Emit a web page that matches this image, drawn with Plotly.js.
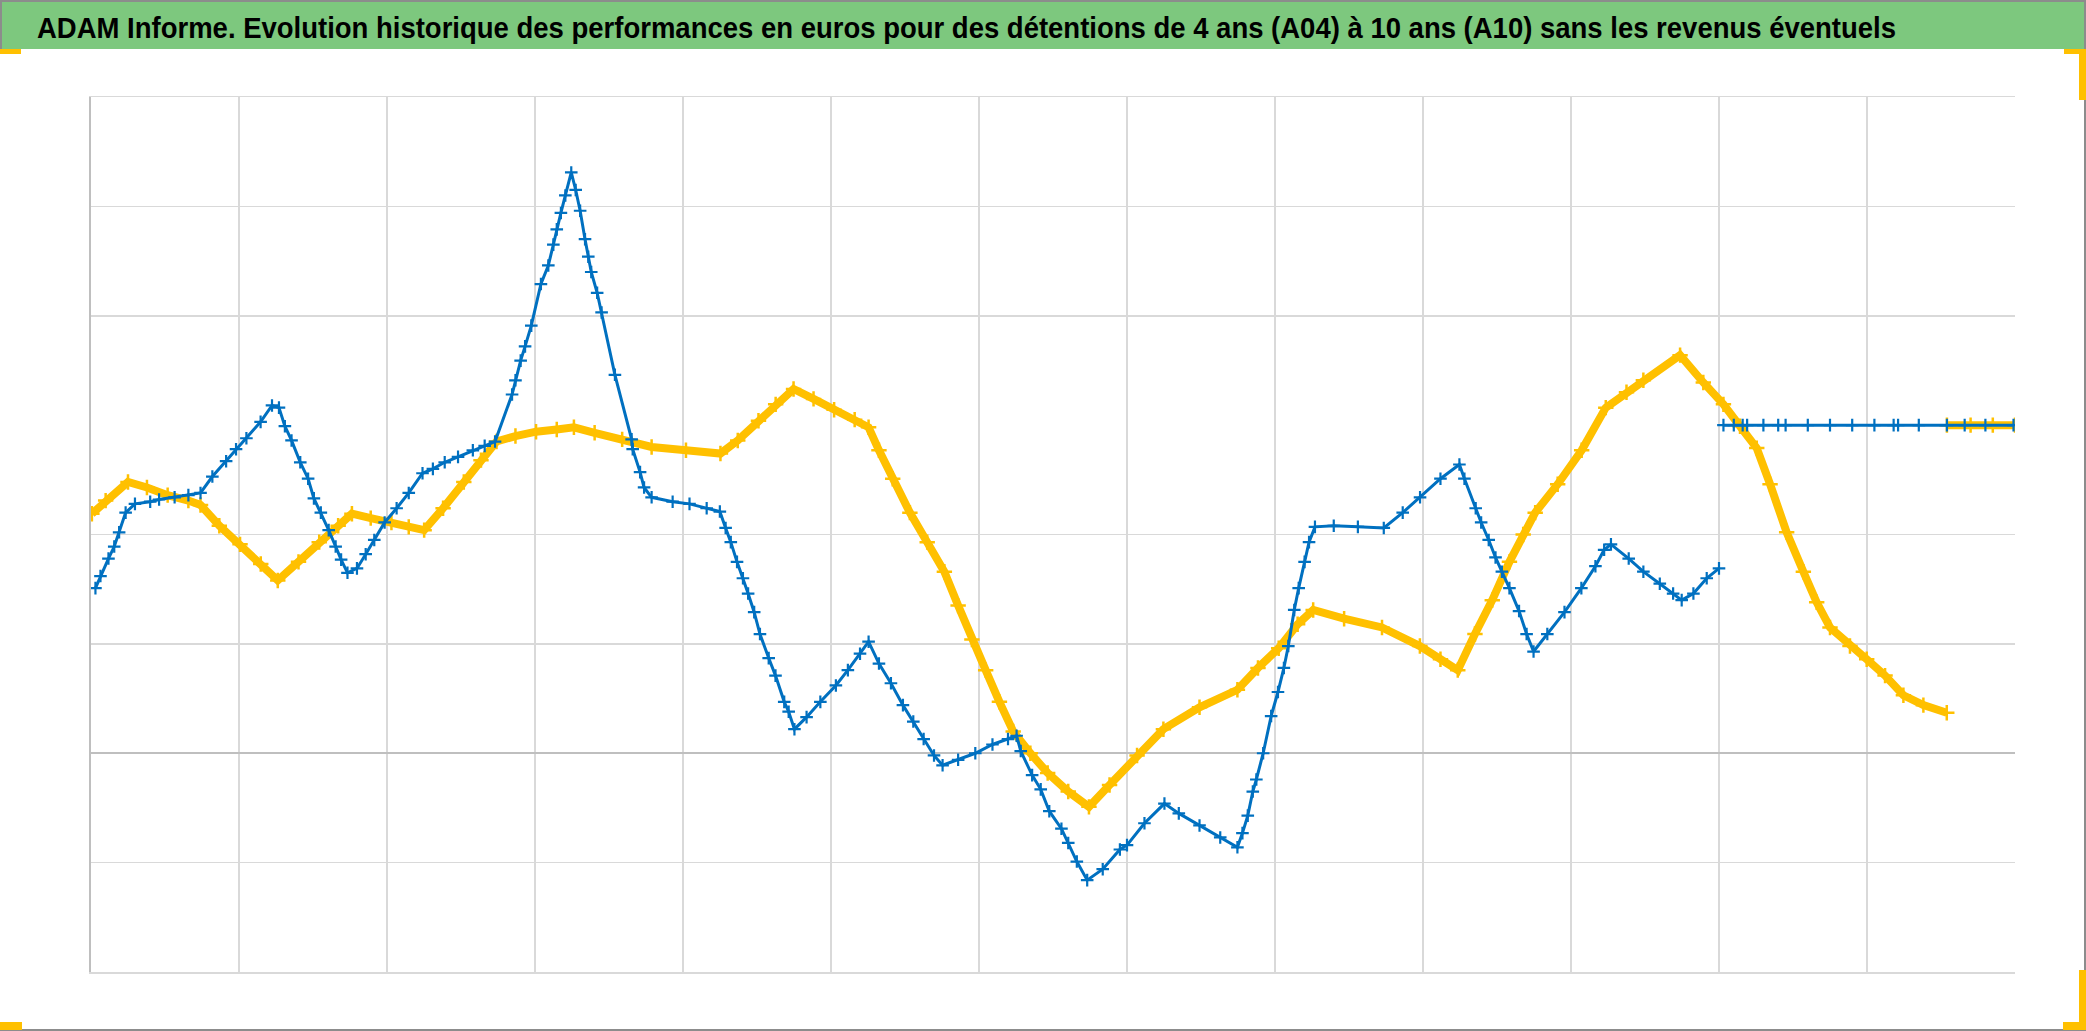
<!DOCTYPE html>
<html>
<head>
<meta charset="utf-8">
<script src="https://cdn.plot.ly/plotly-3.0.1.min.js"></script>
<style>
  html, body { margin: 0; padding: 0; background: #ffffff; }
  #chart { width: 2086px; height: 1031px; }
</style>
</head>
<body>
<div id="chart"></div>
<script>
// ---- Data (x in grid-interval units, y in grid units) ----
const blueX = [0.03,0.064,0.118,0.157,0.19,0.234,0.297,0.40,0.46,0.565,0.658,0.74,0.82,0.913,0.98,1.05,1.146,1.223,1.27,1.31,1.355,1.414,1.467,1.506,1.553,1.606,1.653,1.69,1.733,1.797,1.856,1.914,1.984,2.065,2.147,2.24,2.31,2.39,2.48,2.58,2.66,2.73,2.845,2.868,2.903,2.933,2.975,3.04,3.09,3.124,3.147,3.175,3.205,3.245,3.275,3.305,3.338,3.36,3.38,3.42,3.45,3.54,3.653,3.66,3.71,3.737,3.788,3.93,4.044,4.16,4.249,4.288,4.323,4.365,4.405,4.44,4.481,4.52,4.579,4.625,4.684,4.714,4.753,4.835,4.928,5.033,5.114,5.196,5.254,5.324,5.405,5.486,5.556,5.626,5.696,5.754,5.859,5.975,6.091,6.196,6.254,6.282,6.359,6.417,6.475,6.557,6.603,6.661,6.731,6.836,6.952,7.0,7.118,7.253,7.35,7.49,7.63,7.746,7.78,7.816,7.85,7.874,7.92,7.974,8.02,8.06,8.09,8.13,8.16,8.2,8.23,8.27,8.397,8.56,8.735,8.863,8.98,9.118,9.246,9.28,9.356,9.393,9.444,9.49,9.533,9.584,9.649,9.7,9.747,9.84,9.956,10.07,10.165,10.224,10.27,10.39,10.489,10.6,10.69,10.748,10.827,10.917,11.0];
const blueY = [1.51,1.62,1.78,1.89,2.02,2.20,2.28,2.30,2.32,2.34,2.36,2.38,2.53,2.67,2.78,2.88,3.03,3.18,3.16,2.99,2.86,2.66,2.51,2.33,2.20,2.04,1.89,1.77,1.65,1.69,1.82,1.95,2.11,2.24,2.38,2.56,2.60,2.66,2.71,2.77,2.81,2.85,3.28,3.41,3.59,3.72,3.91,4.29,4.46,4.65,4.79,4.94,5.10,5.31,5.15,4.96,4.70,4.54,4.40,4.21,4.03,3.46,2.87,2.78,2.57,2.43,2.34,2.30,2.28,2.24,2.21,2.06,1.93,1.75,1.60,1.46,1.29,1.09,0.87,0.71,0.47,0.38,0.22,0.33,0.47,0.62,0.76,0.91,1.02,0.82,0.64,0.44,0.29,0.13,-0.02,-0.11,-0.06,0.0,0.08,0.13,0.16,0.02,-0.20,-0.33,-0.53,-0.69,-0.82,-0.99,-1.16,-1.06,-0.88,-0.84,-0.64,-0.46,-0.55,-0.66,-0.77,-0.86,-0.73,-0.57,-0.35,-0.24,0.0,0.34,0.56,0.78,0.98,1.31,1.51,1.75,1.93,2.07,2.08,2.07,2.06,2.20,2.34,2.51,2.64,2.51,2.24,2.11,1.95,1.79,1.66,1.51,1.30,1.09,0.93,1.09,1.29,1.51,1.71,1.86,1.91,1.78,1.66,1.55,1.46,1.40,1.46,1.60,1.69];

const yellowX = [0.006,0.099,0.25,0.378,0.518,0.658,0.74,0.867,1.007,1.147,1.262,1.402,1.542,1.67,1.763,1.89,2.03,2.147,2.251,2.379,2.519,2.635,2.74,2.868,3.007,3.147,3.263,3.403,3.589,3.788,4.02,4.253,4.37,4.51,4.626,4.747,4.882,5.021,5.16,5.254,5.324,5.417,5.533,5.65,5.766,5.859,5.952,6.045,6.138,6.231,6.347,6.464,6.603,6.743,6.882,7.068,7.246,7.49,7.746,7.885,8.025,8.153,8.258,8.467,8.723,8.979,9.118,9.235,9.351,9.468,9.584,9.677,9.758,9.91,10.072,10.235,10.375,10.489,10.737,10.894,11.03,11.142,11.255,11.345,11.457,11.57,11.66,11.75,11.885,11.998,12.122,12.246,12.381,12.539];
const yellowY = [2.19,2.31,2.48,2.43,2.36,2.31,2.27,2.08,1.91,1.73,1.58,1.75,1.93,2.08,2.19,2.15,2.11,2.07,2.04,2.24,2.48,2.68,2.85,2.90,2.94,2.96,2.98,2.93,2.87,2.80,2.77,2.74,2.86,3.04,3.19,3.33,3.24,3.14,3.05,2.98,2.77,2.51,2.20,1.93,1.66,1.35,1.04,0.76,0.47,0.20,0.0,-0.18,-0.35,-0.49,-0.29,-0.02,0.22,0.42,0.58,0.78,0.96,1.18,1.31,1.23,1.15,0.98,0.86,0.76,1.09,1.40,1.75,2.00,2.20,2.46,2.77,3.16,3.30,3.41,3.64,3.39,3.19,2.99,2.79,2.46,2.02,1.66,1.38,1.15,0.98,0.86,0.71,0.53,0.44,0.37];

const flatBlueX = [11.03,11.1,11.16,11.19,11.3,11.4,11.45,11.6,11.75,11.9,12.05,12.18,12.21,12.35,12.54,12.66,12.8,12.99];
const flatBlueY = [3,3,3,3,3,3,3,3,3,3,3,3,3,3,3,3,3,3];
const flatYellowX = [12.54,12.7,12.85,13.0];
const flatYellowY = [3,3,3,3];

const xGridVals = [1,2,3,4,5,6,7,8,9,10,11,12];
const yGridVals = [-1,1,2,4,5];

const titleText = "ADAM Informe. Evolution historique des performances en euros pour des détentions de 4 ans (A04) à 10 ans (A10) sans les revenus éventuels";

// ---- Layout geometry (pixels) ----
const FW = 2086, FH = 1031;
const L = 91, R = 2015, T = 97, B = 972;
const W = R - L, H = B - T;
const px = x => (x - L) / W;
const py = y => (B - y) / H;

const BLUE = "#0070C0", GOLD = "#FFC000";

function rectPx(x0, y0, x1, y1, color) {
  return { type: "rect", xref: "paper", yref: "paper", x0: px(x0), x1: px(x1), y0: py(y1), y1: py(y0),
           fillcolor: color, line: { width: 0 }, layer: "above" };
}
function linePx(x0, y0, x1, y1, color, w) {
  return { type: "line", xref: "paper", yref: "paper", x0: px(x0), x1: px(x1), y0: py(y0), y1: py(y1),
           line: { color: color, width: w }, layer: "above" };
}

const shapes = [
  // green title band
  { type: "rect", xref: "paper", yref: "paper", x0: px(0), x1: px(FW), y0: py(49), y1: py(0),
    fillcolor: "#7dc87e", line: { width: 0 }, layer: "below" },
  // outer grey frame
  linePx(0, 1, FW, 1, "#8c8c8c", 2),
  linePx(1, 0, 1, 49, "#8c8c8c", 2),
  linePx(FW - 1, 0, FW - 1, FH, "#8c8c8c", 2),
  linePx(0, FH - 1, FW, FH - 1, "#8c8c8c", 2),
  // orange selection handles
  rectPx(0, 49, 21, 54, GOLD),
  rectPx(2064, 49, 2086, 54, GOLD),
  rectPx(2079, 49, 2086, 100, GOLD),
  rectPx(0, 1022, 22, 1030, GOLD),
  rectPx(2079, 970, 2086, 1030, GOLD),
  rectPx(2063, 1022, 2086, 1030, GOLD)
];

const traces = [
  { x: yellowX, y: yellowY, type: "scatter", mode: "lines+markers", name: "A10",
    line: { color: GOLD, width: 8 },
    marker: { symbol: "cross-thin", size: 11, color: GOLD, line: { color: GOLD, width: 2.5 } } },
  { x: flatYellowX, y: flatYellowY, type: "scatter", mode: "lines+markers", name: "A10b",
    line: { color: GOLD, width: 8 },
    marker: { symbol: "cross-thin", size: 11, color: GOLD, line: { color: GOLD, width: 2.5 } } },
  { x: blueX, y: blueY, type: "scatter", mode: "lines+markers", name: "A04",
    line: { color: BLUE, width: 3 },
    marker: { symbol: "cross-thin", size: 9, color: BLUE, line: { color: BLUE, width: 2.2 } } },
  { x: flatBlueX, y: flatBlueY, type: "scatter", mode: "lines+markers", name: "A04b",
    line: { color: BLUE, width: 3 },
    marker: { symbol: "cross-thin", size: 9, color: BLUE, line: { color: BLUE, width: 2.2 } } }
];

const layout = {
  width: FW, height: FH,
  margin: { l: L, r: FW - R, t: T, b: FH - B, pad: 0 },
  paper_bgcolor: "#ffffff", plot_bgcolor: "#ffffff",
  showlegend: false,
  title: {
    text: titleText,
    font: { family: "Liberation Sans, Arial, sans-serif", size: 29, color: "#000000", weight: "bold" },
    xref: "container", yref: "container", x: 37 / FW, xanchor: "left", y: 1 - 28 / FH, yanchor: "middle"
  },
  xaxis: {
    range: [0, 13], tickvals: xGridVals, showticklabels: false, ticks: "",
    showgrid: true, gridcolor: "#d9d9d9", gridwidth: 1.5, zeroline: false,
    showline: true, linecolor: "#d9d9d9", linewidth: 1.5, mirror: true
  },
  yaxis: {
    range: [-2, 6], tickvals: yGridVals, showticklabels: false, ticks: "",
    showgrid: true, gridcolor: "#d9d9d9", gridwidth: 1.5,
    zeroline: true, zerolinecolor: "#bfbfbf", zerolinewidth: 2,
    showline: true, linecolor: "#bfbfbf", linewidth: 2, mirror: false
  },
  shapes: shapes
};

Plotly.newPlot("chart", traces, layout, { staticPlot: true, displayModeBar: false }).then(function () {
  // condense the title to the width it occupies in the reference (narrow bold face)
  const t = document.querySelector("#chart .gtitle");
  if (t) {
    t.setAttribute("textLength", "1859");
    t.setAttribute("lengthAdjust", "spacingAndGlyphs");
  }
});
</script>
</body>
</html>
